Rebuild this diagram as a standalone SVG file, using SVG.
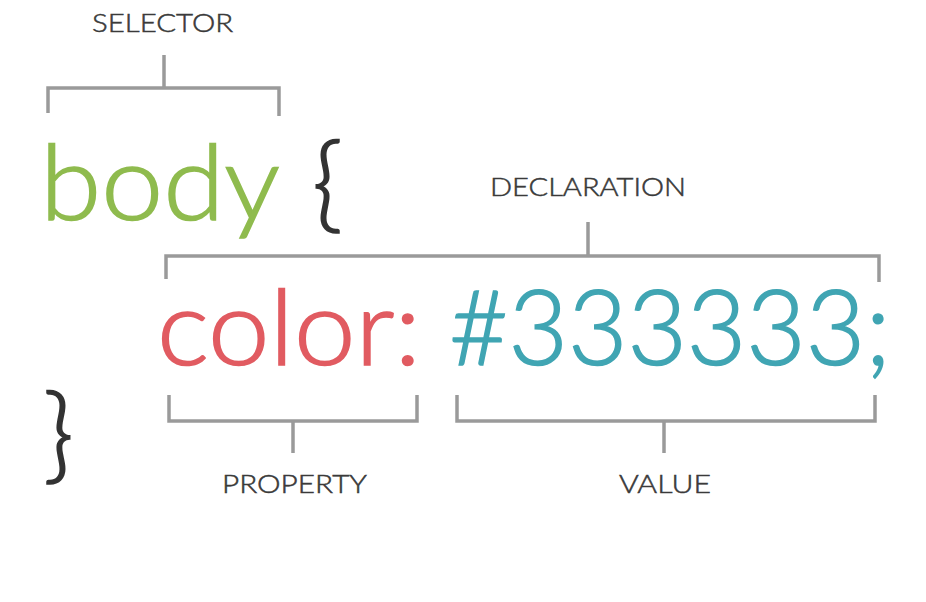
<svg xmlns="http://www.w3.org/2000/svg" width="926" height="602" viewBox="0 0 926 602">
<style>
.lbl{font-family:Lato,"Open Sans","Liberation Sans",sans-serif;font-size:26px;font-weight:300;fill:#3a3a3a;stroke:#3a3a3a;stroke-width:0.5;}
.code{font-family:Lato,"Open Sans","Liberation Sans",sans-serif;font-size:105px;font-weight:300;stroke-width:1.6;}
.br{fill:none;stroke:#9a9a9a;stroke-width:3.5;}
</style>
<rect width="926" height="602" fill="#fff"/>
<g id="connectors">
<path class="br" d="M48,113 V88 H279 V116 M164,55 V88"/>
<path class="br" d="M166,279 V256 H879 V282 M588,222 V256"/>
<path class="br" d="M169,395 V421 H417 V395 M293,421 V453"/>
<path class="br" d="M457,395 V421 H875 V395 M664,421 V453"/>
</g>
<g id="selector-label"><text class="lbl" x="92" y="32" textLength="141" lengthAdjust="spacingAndGlyphs">SELECTOR</text></g>
<g id="declaration-label"><text class="lbl" x="490" y="196" textLength="196" lengthAdjust="spacingAndGlyphs">DECLARATION</text></g>
<g id="property-label"><text class="lbl" x="222" y="493" textLength="145" lengthAdjust="spacingAndGlyphs">PROPERTY</text></g>
<g id="value-label"><text class="lbl" x="619" y="493" textLength="92" lengthAdjust="spacingAndGlyphs">VALUE</text></g>
<g id="selector"><text class="code" x="40" y="220" fill="#8fbb4e" stroke="#8fbb4e" textLength="240" lengthAdjust="spacingAndGlyphs">body</text></g>
<g id="open-brace"><text class="code" x="312" y="219" fill="#333" stroke="#333" stroke-width="3">{</text></g>
<g id="property"><text class="code" x="157" y="365" fill="#e15b61" stroke="#e15b61" textLength="264" lengthAdjust="spacingAndGlyphs">color:</text></g>
<g id="value"><text class="code" x="449" y="365" fill="#40a5b3" stroke="#40a5b3" textLength="442" lengthAdjust="spacingAndGlyphs">#333333;</text></g>
<g id="close-brace"><text class="code" x="43" y="470" fill="#333" stroke="#333" stroke-width="3">}</text></g>
</svg>
